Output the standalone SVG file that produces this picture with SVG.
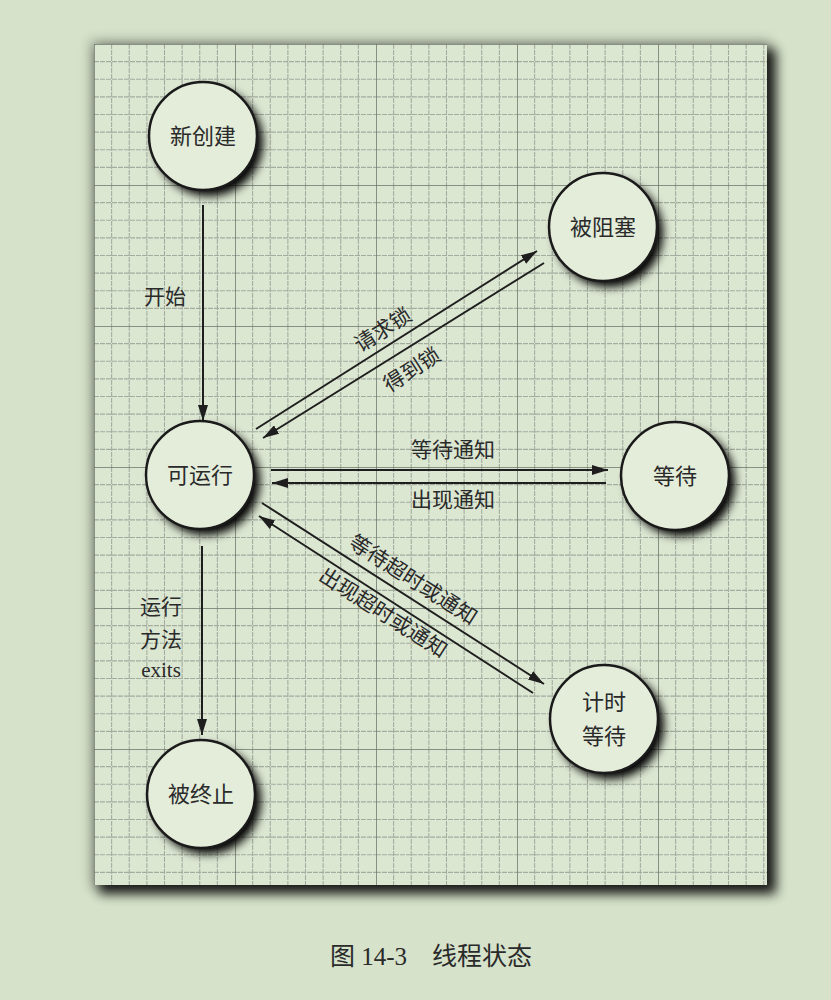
<svg xmlns="http://www.w3.org/2000/svg" width="831" height="1000" viewBox="0 0 831 1000">
<style>
  text { font-family: "Liberation Serif", "Noto Sans CJK SC", serif; fill: #2a2a2a; }
  .node text { font-size: 22px; text-anchor: middle; dominant-baseline: central; }
  .lbl { font-size: 21px; text-anchor: middle; dominant-baseline: central; }
  .circ { fill: #e4edda; stroke: #1a1a1a; stroke-width: 2.5; }
  .shadow { fill: #000; filter: url(#blur); }
  .edge { stroke: #1e1e1e; stroke-width: 2; fill: none; marker-end: url(#arrow); }
</style>
<defs>
  <filter id="blur" x="-50%" y="-50%" width="200%" height="200%">
    <feGaussianBlur stdDeviation="5"/>
  </filter>
  <filter id="pblur" x="-20%" y="-20%" width="140%" height="140%">
    <feGaussianBlur stdDeviation="6"/>
  </filter>
  <marker id="arrow" viewBox="0 0 16 10" refX="16" refY="5" markerWidth="16" markerHeight="10" markerUnits="userSpaceOnUse" orient="auto">
    <path d="M0,0 L16,5 L0,10 Z" fill="#1e1e1e"/>
  </marker>
  <pattern id="grid" x="94" y="44" width="141" height="141" patternUnits="userSpaceOnUse">
    <g stroke="#a3ac9f" stroke-width="1.1" stroke-dasharray="5,1">
      <line x1="17.625" y1="0" x2="17.625" y2="141"/>
      <line x1="35.25" y1="0" x2="35.25" y2="141"/>
      <line x1="52.875" y1="0" x2="52.875" y2="141"/>
      <line x1="70.5" y1="0" x2="70.5" y2="141"/>
      <line x1="88.125" y1="0" x2="88.125" y2="141"/>
      <line x1="105.75" y1="0" x2="105.75" y2="141"/>
      <line x1="123.375" y1="0" x2="123.375" y2="141"/>
      <line y1="17.625" x1="0" y2="17.625" x2="141"/>
      <line y1="35.25" x1="0" y2="35.25" x2="141"/>
      <line y1="52.875" x1="0" y2="52.875" x2="141"/>
      <line y1="70.5" x1="0" y2="70.5" x2="141"/>
      <line y1="88.125" x1="0" y2="88.125" x2="141"/>
      <line y1="105.75" x1="0" y2="105.75" x2="141"/>
      <line y1="123.375" x1="0" y2="123.375" x2="141"/>
    </g>
    <g stroke="#6a7367" stroke-width="1.5">
      <line x1="0" y1="0" x2="0" y2="141"/>
      <line x1="0" y1="0" x2="141" y2="0"/>
    </g>
  </pattern>
</defs>

<rect x="0" y="0" width="831" height="1000" fill="#d6e2ca"/>

<!-- paper panel -->
<g id="panel">
  <rect x="90" y="40" width="680" height="848" fill="#000" opacity="0.25" filter="url(#pblur)"/>
  <rect x="99" y="49" width="677" height="845" fill="#000" opacity="0.85" filter="url(#pblur)"/>
  <rect x="94" y="44" width="673" height="841" fill="#dce7d2"/>
  <rect x="94" y="44" width="673" height="841" fill="url(#grid)"/>
</g>

<!-- connectors -->
<g id="connectors">
  <line class="edge" x1="203" y1="205" x2="203" y2="421"/>
  <line class="edge" x1="202" y1="546" x2="202" y2="735"/>
  <line class="edge" x1="256" y1="429" x2="537" y2="251"/>
  <line class="edge" x1="544" y1="263" x2="263" y2="438"/>
  <line class="edge" x1="271" y1="470" x2="608" y2="470"/>
  <line class="edge" x1="606" y1="483" x2="272" y2="483"/>
  <line class="edge" x1="262" y1="503" x2="544" y2="684"/>
  <line class="edge" x1="533" y1="693" x2="259" y2="516"/>
  <text class="lbl" x="165" y="297">开始</text>
  <text class="lbl" x="161" y="607">运行</text>
  <text class="lbl" x="161" y="640">方法</text>
  <text class="lbl" x="161" y="670">exits</text>
  <text class="lbl" transform="translate(383,330) rotate(-32.4)">请求锁</text>
  <text class="lbl" transform="translate(412,370) rotate(-32.4)">得到锁</text>
  <text class="lbl" x="453" y="450">等待通知</text>
  <text class="lbl" x="453" y="500">出现通知</text>
  <text class="lbl" transform="translate(413,580) rotate(32.6)">等待超时或通知</text>
  <text class="lbl" transform="translate(383,613) rotate(32.6)">出现超时或通知</text>
</g>

<g id="node-new" class="node">
  <circle class="shadow" cx="209" cy="142" r="54"/>
  <circle class="circ" cx="203" cy="136" r="54"/>
  <text x="203" y="136">新创建</text>
</g>
<g id="node-blocked" class="node">
  <circle class="shadow" cx="609" cy="233" r="54"/>
  <circle class="circ" cx="603" cy="227" r="54"/>
  <text x="603" y="227">被阻塞</text>
</g>
<g id="node-runnable" class="node">
  <circle class="shadow" cx="206" cy="481" r="54"/>
  <circle class="circ" cx="200" cy="475" r="54"/>
  <text x="200" y="475">可运行</text>
</g>
<g id="node-waiting" class="node">
  <circle class="shadow" cx="681" cy="482" r="54"/>
  <circle class="circ" cx="675" cy="476" r="54"/>
  <text x="675" y="476">等待</text>
</g>
<g id="node-timed" class="node">
  <circle class="shadow" cx="610" cy="725" r="54"/>
  <circle class="circ" cx="604" cy="719" r="54"/>
  <text x="604" y="702">计时</text>
  <text x="604" y="736">等待</text>
</g>
<g id="node-terminated" class="node">
  <circle class="shadow" cx="207" cy="800" r="54"/>
  <circle class="circ" cx="201" cy="794" r="54"/>
  <text x="201" y="794">被终止</text>
</g>

<text x="431" y="965" font-size="25" text-anchor="middle">图 14-3　线程状态</text>
</svg>
